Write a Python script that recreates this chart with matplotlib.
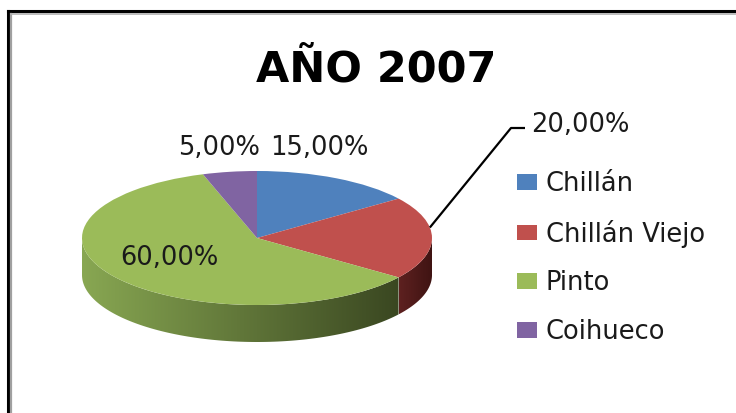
import numpy as np
import matplotlib.pyplot as plt
from matplotlib.lines import Line2D
from matplotlib.patches import Polygon
from matplotlib.colors import LinearSegmentedColormap

# data
categories = ['Chillán', 'Chillán Viejo', 'Pinto', 'Coihueco']
shares = [15, 20, 60, 5]
pct_labels = ['15,00%', '20,00%', '60,00%', '5,00%']
colors = ['#4f81bd', '#c0504d', '#9bbb59', '#8064a2']
side_colors = [('#2f4d72', '#233a57'), ('#5e2120', '#3e1312'),
               ('#88a752', '#3a4721'), ('#4d3c62', '#3a2d4a')]

# layout (pixels)
W, H = 736, 413
cx, cy = 257, 238
rx, ry = 175, 67
depth = 37 / ry
label_pos = [(270, 155), (531, 132), (120, 265), (178, 155)]   # left, baseline


def px(x, y):
    return (x - cx) / rx, (cy - y) / ry


fig = plt.figure(figsize=(W / 100, H / 100), dpi=100)
ax = fig.add_axes([0, 0, 1, 1])

wedges, _ = ax.pie(shares, colors=colors, startangle=90, counterclock=False,
                   wedgeprops=dict(linewidth=0, zorder=3))

# side of the 3d pie (front half only)
for w, sc in zip(wedges, side_colors):
    lo, hi = max(w.theta1, -180), min(w.theta2, 0)
    if hi <= lo:
        continue
    t = np.radians(np.linspace(lo, hi, 120))
    x, y = np.cos(t), np.sin(t)
    verts = np.column_stack([np.r_[x, x[::-1]], np.r_[y, (y - depth)[::-1]]])
    patch = Polygon(verts, facecolor='none', edgecolor='none', zorder=2)
    ax.add_patch(patch)
    cmap = LinearSegmentedColormap.from_list('side', sc)
    im = ax.imshow(np.linspace(0, 1, 256)[None, :], cmap=cmap, aspect='auto',
                   extent=(x.min(), x.max(), (y - depth).min(), y.max()), zorder=2)
    im.set_clip_path(patch)

ax.set_aspect('auto')
ax.set_xlim(-cx / rx, (W - cx) / rx)
ax.set_ylim(-(H - cy) / ry, cy / ry)
ax.axis('off')

# percentage labels
for lab, (lx, ly) in zip(pct_labels, label_pos):
    tx, ty = px(lx, ly)
    ax.text(tx, ty, lab, ha='left', va='baseline', fontsize=18.5,
            color='#1a1a1a', zorder=5)

# leader line for 20 %
mid = np.radians((wedges[1].theta1 + wedges[1].theta2) / 2 + 9)
e1 = px(511, 128)
e2 = px(525, 128)
ax.plot([np.cos(mid), e1[0], e2[0]], [np.sin(mid), e1[1], e2[1]],
        color='black', lw=1.6, zorder=4, solid_capstyle='butt')

# title
fig.text(376 / W, 1 - 82 / H, 'AÑO 2007', ha='center', va='baseline',
         fontsize=31, fontweight='bold', color='black')

# legend
ax.legend(wedges, categories, loc='center left',
          bbox_to_anchor=(517 / W, 1 - 258 / H), bbox_transform=fig.transFigure,
          frameon=False, fontsize=18.5, handlelength=0.76, handleheight=0.56,
          handletextpad=0.36, labelspacing=0.88, borderpad=0, borderaxespad=0,
          labelcolor='#1a1a1a')

# frame border
fig.add_artist(Line2D([8 / W, 8 / W], [0, 1 - 11 / H], color='black', lw=2.2,
                      transform=fig.transFigure, solid_capstyle='projecting'))
fig.add_artist(Line2D([8 / W, 1], [1 - 11 / H, 1 - 11 / H], color='black', lw=2.2,
                      transform=fig.transFigure, solid_capstyle='projecting'))
fig.add_artist(Line2D([11 / W, 11 / W], [0, 1 - 13.5 / H], color='#a0a0a0', lw=1.6,
                      transform=fig.transFigure))
fig.add_artist(Line2D([11 / W, 1], [1 - 13.5 / H, 1 - 13.5 / H], color='#b0b0b0',
                      lw=1.2, transform=fig.transFigure))

plt.savefig('out.png', dpi=100)
